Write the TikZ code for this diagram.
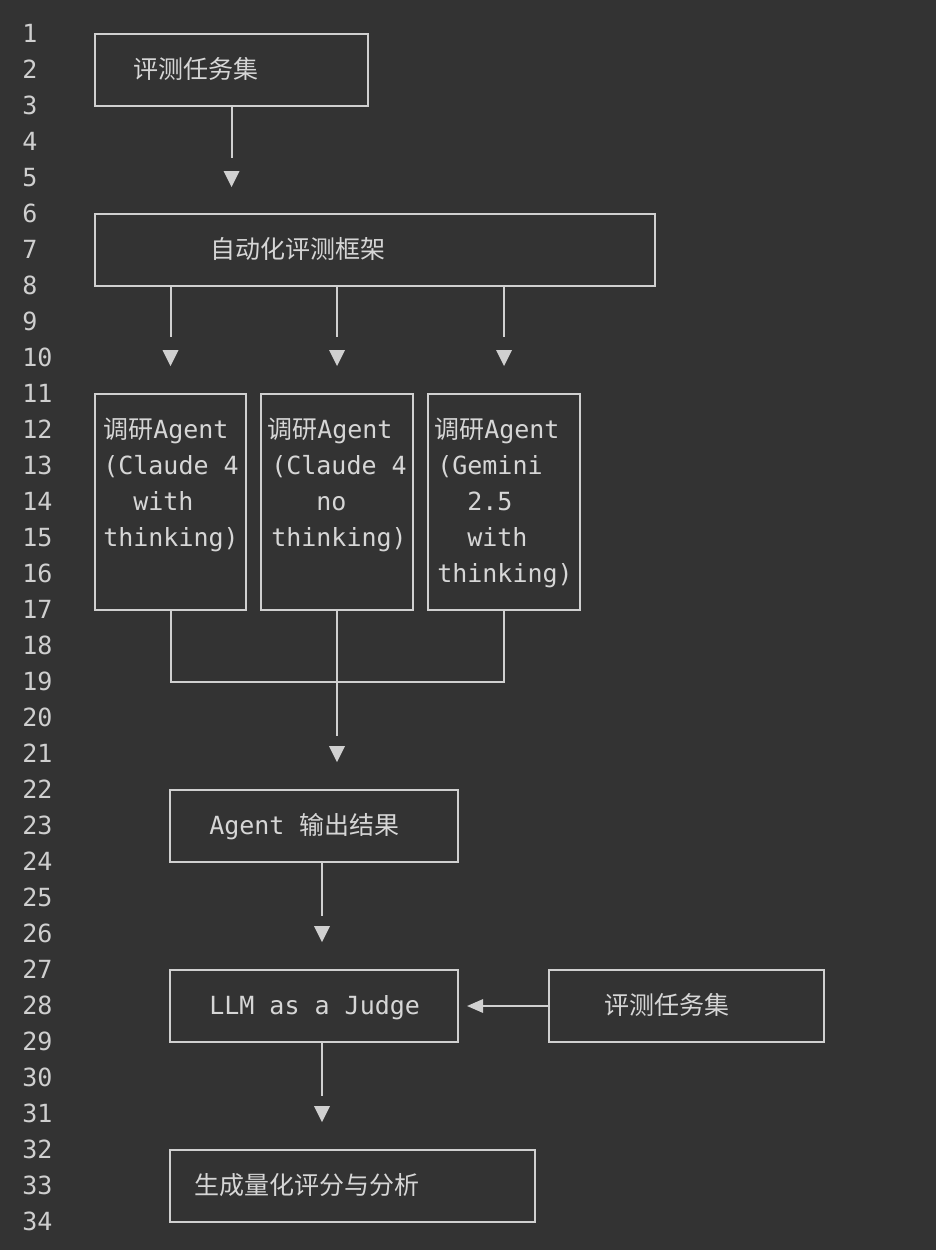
\documentclass[tikz,border=0pt]{standalone}
\usepackage{fontspec}
\newfontfamily\mono{DejaVu Sans Mono}
\newfontfamily\cjk{Noto Sans CJK SC}
\usetikzlibrary{arrows.meta}
\definecolor{bg}{HTML}{333333}
\definecolor{fg}{HTML}{D6D6D6}
\definecolor{ln}{HTML}{D0D0D0}
\definecolor{num}{HTML}{CFCFCF}
\newcommand\tridown[1]{\fill[ln] (#1) ++(-8,-8) -- ++(16,0) -- ++(-8,16) -- cycle;}
\begin{document}
\begin{tikzpicture}[x=0.75pt,y=-0.75pt,
  box/.style={draw=ln, line width=1.5pt, rectangle, inner sep=0pt},
  conn/.style={draw=ln, line width=1.5pt},
  txt/.style={text=fg, font=\mono\fontsize{18.75pt}{27pt}\selectfont, inner sep=0pt, anchor=base west},
  numt/.style={text=num, font=\mono\fontsize{18.75pt}{27pt}\selectfont, inner sep=0pt, anchor=base west}]
\useasboundingbox (0,0) rectangle (936,1250);
\fill[bg] (0,0) rectangle (936,1250);

% line numbers
\foreach \n in {1,...,34} {
  \node[numt] (ln\n) at (22,{6.5+36*\n}) {\n};
}

% boxes
\node[box, minimum width=204.75pt, minimum height=54pt] (A) at (231.5,70) {};
\node[box, minimum width=420pt, minimum height=54pt] (B) at (375,250) {};
\node[box, minimum width=113.25pt, minimum height=162pt] (C1) at (170.5,502) {};
\node[box, minimum width=114pt, minimum height=162pt] (C2) at (337,502) {};
\node[box, minimum width=114pt, minimum height=162pt] (C3) at (504,502) {};
\node[box, minimum width=216pt, minimum height=54pt] (D) at (314,826) {};
\node[box, minimum width=216pt, minimum height=54pt] (E) at (314,1006) {};
\node[box, minimum width=206.25pt, minimum height=54pt] (F) at (686.5,1006) {};
\node[box, minimum width=273.75pt, minimum height=54pt] (G) at (352.5,1186) {};

% texts
\node[txt] (tA) at (133,78.5) {\cjk 评测任务集};
\node[txt] (tB) at (210,258.5) {\cjk 自动化评测框架};

\node[txt] (c1a) at (103,438.5) {{\cjk 调研}Agent};
\node[txt] (c1b) at (103,474.5) {(Claude 4};
\node[txt] (c1c) at (133,510.5) {with};
\node[txt] (c1d) at (103,546.5) {thinking)};

\node[txt] (c2a) at (267,438.5) {{\cjk 调研}Agent};
\node[txt] (c2b) at (271,474.5) {(Claude 4};
\node[txt] (c2c) at (316,510.5) {no};
\node[txt] (c2d) at (271,546.5) {thinking)};

\node[txt] (c3a) at (434,438.5) {{\cjk 调研}Agent};
\node[txt] (c3b) at (437,474.5) {(Gemini};
\node[txt] (c3c) at (467,510.5) {2.5};
\node[txt] (c3d) at (467,546.5) {with};
\node[txt] (c3e) at (437,582.5) {thinking)};

\node[txt] (tD) at (209,834.5) {Agent {\cjk 输出结果}};
\node[txt] (tE) at (209,1014.5) {LLM as a Judge};
\node[txt] (tF) at (604,1014.5) {\cjk 评测任务集};
\node[txt] (tG) at (194,1194.5) {\cjk 生成量化评分与分析};

% connectors
\coordinate (a1) at (231.5,158);
\draw[conn] (A.south) -- (a1);
\tridown{231.5,179}

\coordinate (b1) at (170.5,337);
\coordinate (b2) at (337,337);
\coordinate (b3) at (504,337);
\draw[conn] (B.south -| b1) -- (b1);
\draw[conn] (B.south -| b2) -- (b2);
\draw[conn] (B.south -| b3) -- (b3);
\tridown{170.5,358}
\tridown{337,358}
\tridown{504,358}

\coordinate (m1) at (170.5,682);
\coordinate (m2) at (337,682);
\coordinate (m3) at (504,682);
\draw[conn] (C1.south) -- (m1) -- (m3) -- (C3.south);
\draw[conn] (C2.south) -- (m2);
\coordinate (d0) at (337,736);
\draw[conn] (m2) -- (d0);
\tridown{337,754}

\coordinate (dx) at (322,916);
\draw[conn] (D.south -| dx) -- (dx);
\tridown{322,934}

\coordinate (ex) at (322,1096);
\draw[conn] (E.south -| ex) -- (ex);
\tridown{322,1114}

\draw[conn, -{Triangle[length=12pt,width=10pt]}, shorten >=6pt] (F.west) -- (E.east);
\end{tikzpicture}
\end{document}
